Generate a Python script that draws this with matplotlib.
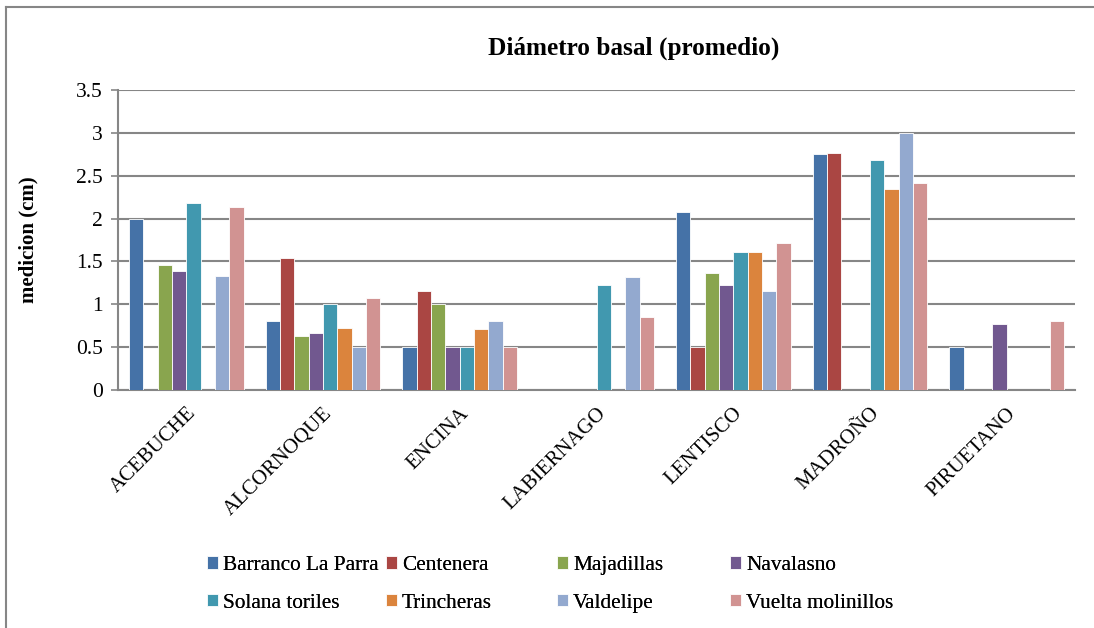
import matplotlib
matplotlib.use("Agg")
import matplotlib.pyplot as plt
import matplotlib.lines as mlines
import numpy as np

categories = ["ACEBUCHE", "ALCORNOQUE", "ENCINA", "LABIERNAGO", "LENTISCO", "MADROÑO", "PIRUETANO"]
series_names = ["Barranco La Parra", "Centenera", "Majadillas", "Navalasno",
                "Solana toriles", "Trincheras", "Valdelipe", "Vuelta molinillos"]

barranco = [2.0, 0.81, 0.5, 0, 2.08, 2.75, 0.5]
centenera = [0, 1.54, 1.16, 0, 0.5, 2.76, 0]
majadillas = [1.46, 0.63, 1.0, 0, 1.36, 0, 0]
navalasno = [1.39, 0.66, 0.5, 0, 1.23, 0, 0.77]
solana = [2.18, 1.0, 0.5, 1.22, 1.61, 2.68, 0]
trincheras = [0, 0.72, 0.71, 0, 1.61, 2.35, 0]
valdelipe = [1.33, 0.5, 0.81, 1.32, 1.16, 3.0, 0]
vuelta = [2.14, 1.07, 0.5, 0.85, 1.71, 2.41, 0.8]

series_values = [barranco, centenera, majadillas, navalasno, solana, trincheras, valdelipe, vuelta]
colors = ["#4572A7", "#AA4643", "#89A54E", "#71588F", "#4198AF", "#DB843D", "#93A9CF", "#D19392"]

yticks = [0, 0.5, 1, 1.5, 2, 2.5, 3, 3.5]
ytick_labels = ["0", "0.5", "1", "1.5", "2", "2.5", "3", "3.5"]

SERIF = ['Liberation Serif', 'DejaVu Serif']
plt.rcParams['font.family'] = 'serif'
plt.rcParams['font.serif'] = SERIF

W, H = 1094, 628
fig = plt.figure(figsize=(W / 100, H / 100), dpi=100)
ax = fig.add_axes([118 / W, 1 - 390 / H, (1075 - 118) / W, 300 / H])

x = np.arange(len(categories))
bw = 0.105
handles = []
for i, (name, vals, c) in enumerate(zip(series_names, series_values, colors)):
    offs = (i - 3.5) * bw
    b = ax.bar(x + offs, vals, width=bw, color=c, edgecolor="white", linewidth=0.6,
               label=name, zorder=3)
    handles.append(b)

ax.set_xlim(-0.5, len(categories) - 0.5)
ax.set_ylim(0, 3.5)
ax.set_yticks(yticks)
ax.set_yticklabels(ytick_labels, fontsize=15.5, family=SERIF)
ax.yaxis.grid(True, color="#868686", linewidth=1.5, zorder=0)
ax.set_axisbelow(True)
ax.set_xticks(x)
ax.set_xticklabels(categories, rotation=45, ha="right", va="top", fontsize=15,
                   rotation_mode="anchor", family=SERIF)
ax.tick_params(axis="x", length=0, pad=10)
ax.tick_params(axis="y", length=5, color="#868686", width=1.2, pad=6)
for s in ["top", "right"]:
    ax.spines[s].set_visible(False)
ax.spines["left"].set_color("#868686")
ax.spines["left"].set_linewidth(1.5)
ax.spines["bottom"].set_color("#868686")
ax.spines["bottom"].set_linewidth(1.5)

ax.set_ylabel("medicion (cm)", fontsize=15, fontweight="bold", family=SERIF)
ax.yaxis.set_label_coords((38 - 118) / 957, 0.5)
fig.text(634 / W, 1 - 48 / H, "Diámetro basal (promedio)", ha="center", va="center",
         fontsize=18.2, fontweight="bold", family=SERIF)

# legend: 4 columns of 2 entries each
col_x = [207, 386, 557, 730]
for ci in range(4):
    hs = [handles[ci], handles[ci + 4]]
    ls = [series_names[ci], series_names[ci + 4]]
    leg = fig.legend(hs, ls, loc="upper left",
                     bbox_to_anchor=(col_x[ci] / W, 1 - 556 / H),
                     frameon=False, prop={'family': SERIF, 'size': 15.3},
                     handlelength=0.5, handleheight=0.5,
                     handletextpad=0.25, labelspacing=0.88, borderpad=0, borderaxespad=0)
    fig.add_artist(leg)

# chart-area border
fig.add_artist(mlines.Line2D([6 / W, 6 / W], [0, 1 - 7 / H], color="#868686", linewidth=1.5,
                             transform=fig.transFigure))
fig.add_artist(mlines.Line2D([6 / W, 1], [1 - 7 / H, 1 - 7 / H], color="#868686", linewidth=1.5,
                             transform=fig.transFigure))

fig.savefig("out.png", dpi=100)
